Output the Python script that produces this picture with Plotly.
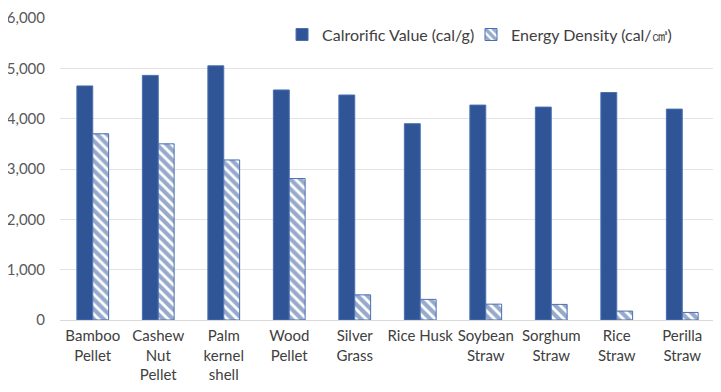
import plotly.graph_objects as go

categories = ["Bamboo<br>Pellet", "Cashew<br>Nut<br>Pellet", "Palm<br>kernel<br>shell", "Wood<br>Pellet",
              "Silver<br>Grass", "Rice Husk", "Soybean<br>Straw", "Sorghum<br>Straw", "Rice<br>Straw", "Perilla<br>Straw"]
calorific = [4650, 4860, 5050, 4570, 4470, 3900, 4270, 4230, 4520, 4190]
energy_density = [3700, 3500, 3180, 2810, 500, 410, 315, 310, 177, 150]
tick_vals = [0, 1000, 2000, 3000, 4000, 5000, 6000]
tick_text = ["0", "1,000", "2,000", "3,000", "4,000", "5,000", "6,000"]

blue = "#2F5597"
fig = go.Figure()
fig.add_trace(go.Bar(x=categories, y=calorific, name="Calrorific Value (cal/g)", legend="legend",
                     marker=dict(color=blue, line=dict(color="#4A6FB0", width=1))))
fig.add_trace(go.Bar(x=categories, y=energy_density, name="Energy Density (cal/㎤)", legend="legend2",
                     marker=dict(color="white", line=dict(color="#4A6FB0", width=1),
                                 pattern=dict(shape="\\", fgcolor=blue, bgcolor="white",
                                              size=7, solidity=0.6))))
leg_common = dict(orientation="h", yanchor="middle", xanchor="left",
                  font=dict(family="Lato", size=16, color="#404040"),
                  bgcolor="rgba(0,0,0,0)", itemwidth=30)
fig.update_layout(
    width=713, height=384,
    margin=dict(l=52, r=6, t=10, b=72),
    paper_bgcolor="white", plot_bgcolor="white",
    barmode="group", bargap=0.515, bargroupgap=0,
    font=dict(family="Lato", size=15, color="#404040"),
    legend=dict(x=0.339, y=0.945, **leg_common),
    legend2=dict(x=0.6275, y=0.945, **leg_common),
    showlegend=True,
)
fig.update_yaxes(range=[0, 6000], tickvals=tick_vals, ticktext=tick_text,
                 showgrid=True, gridcolor="#E3E3E3", gridwidth=1, zeroline=False,
                 showline=False, ticks="", ticklabelstandoff=14, automargin=False,
                 ticklabeloverflow="allow",
                 tickfont=dict(color="#595959"), fixedrange=True)
fig.update_xaxes(showline=True, linecolor="#D9D9D9", linewidth=1, ticks="",
                 tickangle=0, showgrid=False, automargin=False, ticklabelstandoff=2)
fig.write_html("out.html")
